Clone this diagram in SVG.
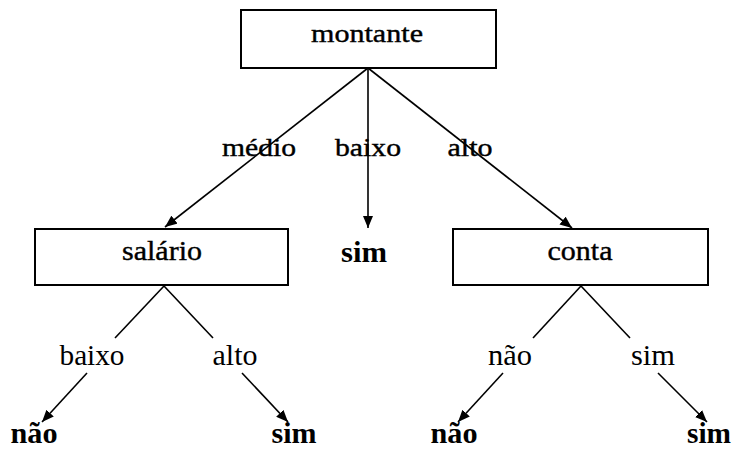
<svg xmlns="http://www.w3.org/2000/svg" width="733" height="454" viewBox="0 0 733 454">
  <style>
    .box { fill: #ffffff; stroke: #000000; stroke-width: 2; }
    .edge { stroke: #000000; stroke-width: 1.6; fill: none; }
    .arrow { marker-end: url(#head); }
    text { font-family: "Liberation Serif", "Times New Roman", serif; font-size: 29px; fill: #000000; text-anchor: middle; }
    .top { font-size: 26px; stroke: #000000; stroke-width: 0.4; }
    .node { font-size: 28px; stroke: #000000; stroke-width: 0.4; }
    .leaf { font-weight: bold; font-size: 30px; }
  </style>
  <defs>
    <marker id="head" markerUnits="userSpaceOnUse" markerWidth="12" markerHeight="10" refX="12" refY="5" orient="auto">
      <path d="M0,0 L12,5 L0,10 Z" fill="#000000"/>
    </marker>
  </defs>
  <rect width="733" height="454" fill="#ffffff"/>

  <!-- connectors -->
  <g id="connectors">
    <line class="edge arrow" x1="368" y1="68" x2="165" y2="227"/>
    <line class="edge arrow" x1="368" y1="68" x2="368" y2="228"/>
    <line class="edge arrow" x1="368" y1="68" x2="572" y2="228"/>
    <line class="edge" x1="164" y1="286" x2="115" y2="338"/>
    <line class="edge" x1="164" y1="286" x2="213" y2="338"/>
    <line class="edge arrow" x1="87" y1="373" x2="42" y2="422"/>
    <line class="edge arrow" x1="242" y1="373" x2="288" y2="422"/>
    <line class="edge" x1="581" y1="286" x2="533" y2="338"/>
    <line class="edge" x1="581" y1="286" x2="630" y2="338"/>
    <line class="edge arrow" x1="503" y1="373" x2="458" y2="422"/>
    <line class="edge arrow" x1="658" y1="373" x2="707" y2="422"/>
  </g>

  <!-- edge labels -->
  <g id="edge-labels">
    <text class="top" x="259" y="156" textLength="74" lengthAdjust="spacingAndGlyphs">médio</text>
    <text class="top" x="368" y="156" textLength="66" lengthAdjust="spacingAndGlyphs">baixo</text>
    <text class="top" x="470" y="156" textLength="45" lengthAdjust="spacingAndGlyphs">alto</text>
    <text x="92" y="365" textLength="65" lengthAdjust="spacingAndGlyphs">baixo</text>
    <text x="235" y="365" textLength="45" lengthAdjust="spacingAndGlyphs">alto</text>
    <text x="510" y="365" textLength="44" lengthAdjust="spacingAndGlyphs">não</text>
    <text x="653" y="365" textLength="44" lengthAdjust="spacingAndGlyphs">sim</text>
  </g>

  <!-- decision nodes -->
  <g id="node-montante">
    <rect class="box" x="241" y="10" width="255" height="58"/>
    <text class="top" x="367" y="42" textLength="112" lengthAdjust="spacingAndGlyphs">montante</text>
  </g>
  <g id="node-salario">
    <rect class="box" x="35" y="229" width="253" height="56"/>
    <text class="node" x="162" y="260" textLength="80" lengthAdjust="spacingAndGlyphs">salário</text>
  </g>
  <g id="node-conta">
    <rect class="box" x="453" y="229" width="255" height="56"/>
    <text class="node" x="580" y="260" textLength="65" lengthAdjust="spacingAndGlyphs">conta</text>
  </g>

  <!-- leaves -->
  <g id="leaf-sim-mid">
    <text class="leaf" x="364" y="262" textLength="46" lengthAdjust="spacingAndGlyphs">sim</text>
  </g>
  <g id="leaf-nao-left">
    <text class="leaf" x="34" y="443" textLength="47" lengthAdjust="spacingAndGlyphs">não</text>
  </g>
  <g id="leaf-sim-left">
    <text class="leaf" x="294" y="443" textLength="45" lengthAdjust="spacingAndGlyphs">sim</text>
  </g>
  <g id="leaf-nao-right">
    <text class="leaf" x="454" y="443" textLength="47" lengthAdjust="spacingAndGlyphs">não</text>
  </g>
  <g id="leaf-sim-right">
    <text class="leaf" x="709" y="443" textLength="44" lengthAdjust="spacingAndGlyphs">sim</text>
  </g>
</svg>
